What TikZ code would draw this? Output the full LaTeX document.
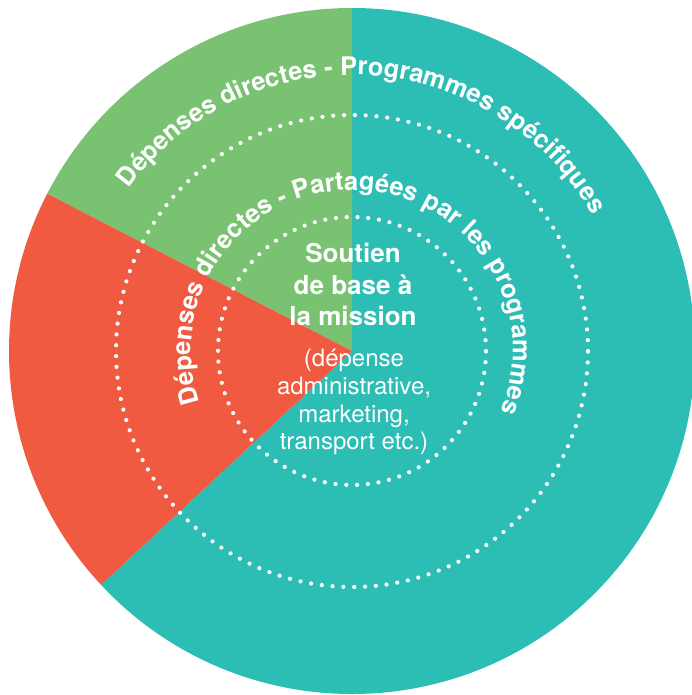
\documentclass[tikz,border=0pt]{standalone}
\usepackage{fontspec}
\setmainfont{TeX Gyre Heros}
\usetikzlibrary{decorations.text}
\definecolor{segGreen}{RGB}{121,194,114}
\definecolor{segRed}{RGB}{240,90,64}
\definecolor{segTeal}{RGB}{44,189,181}

\begin{document}
\begin{tikzpicture}[x=1pt,y=1pt,
    ring/.style={white,line width=4.2pt,line cap=round},
    arctext/.style={decorate,decoration={text along path,text align=center,
      text color=white,text={|\bfseries\fontsize{25.5}{30}\selectfont|#1}}}]
  \useasboundingbox (-352,-344) rectangle (340,351);
  % slices
  \fill[segTeal] (0,0) -- (223:343pt) arc[start angle=223,end angle=450,radius=343pt] -- cycle;
  \fill[segGreen] (0,0) -- (90:343pt) arc[start angle=90,end angle=152.7,radius=343pt] -- cycle;
  \fill[segRed] (0,0) -- (152.7:343pt) arc[start angle=152.7,end angle=223,radius=343pt] -- cycle;
  % dotted rings
  \draw[ring,dash pattern=on 0pt off 10.82pt] (0,0) circle[radius=236pt];
  \draw[ring,dash pattern=on 0pt off 10.79pt] (0,0) circle[radius=134pt];
  % curved labels
  \path[arctext={Dépenses directes - Programmes spécifiques}]
    (201.7:276pt) arc[start angle=201.7,end angle=-28.3,radius=276pt];
  \path[arctext={Dépenses directes - Partagées par les programmes}]
    (213.25:161pt) arc[start angle=213.25,end angle=-36.75,radius=161pt];
  % centre
  \node[anchor=north,align=center,inner sep=0pt,text=white,
    font=\bfseries\fontsize{26}{31.5}\selectfont] (core) at (1,108)
    {Soutien\\de base à\\la mission};
  \node[anchor=north,align=center,inner sep=0pt,text=white,
    font=\fontsize{24}{27.7}\selectfont] (sub) at (2,2)
    {(dépense\\administrative,\\marketing,\\transport etc.)};
\end{tikzpicture}
\end{document}
